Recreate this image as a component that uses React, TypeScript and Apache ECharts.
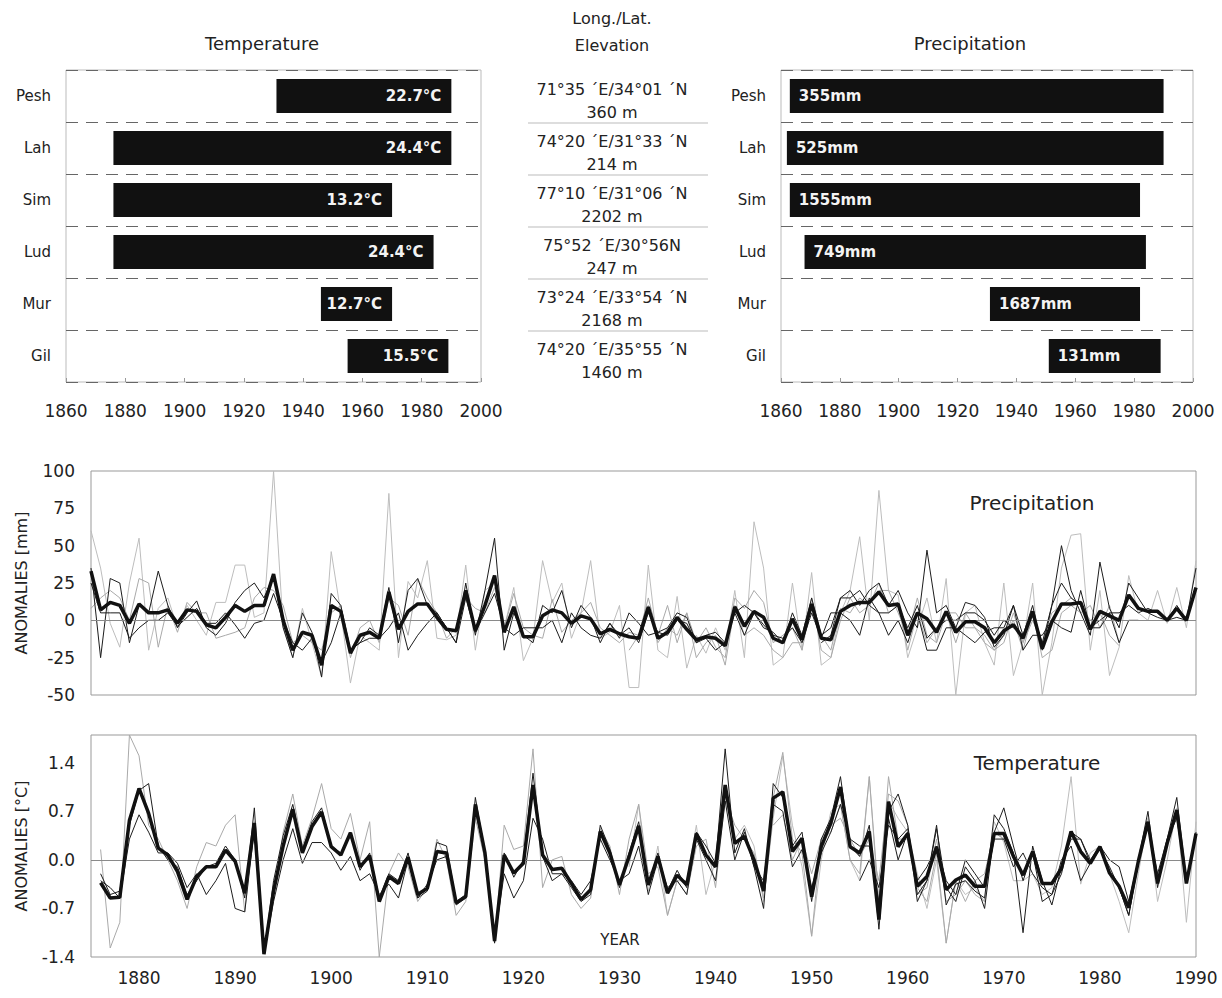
import React, { useEffect, useRef } from "react";
import * as echarts from "echarts";

// ---------- station metadata ----------
const stations = ["Pesh", "Lah", "Sim", "Lud", "Mur", "Gil"];
const tempStart = [1931, 1876, 1876, 1876, 1946, 1955];
const tempEnd = [1990, 1990, 1970, 1984, 1970, 1989];
const tempLabels = ["22.7°C", "24.4°C", "13.2°C", "24.4°C", "12.7°C", "15.5°C"];
const precStart = [1863, 1862, 1863, 1868, 1931, 1951];
const precEnd = [1990, 1990, 1982, 1984, 1982, 1989];
const precLabels = ["355mm", "525mm", "1555mm", "749mm", "1687mm", "131mm"];
const coords = [
  "71°35 ´E/34°01 ´N",
  "74°20 ´E/31°33 ´N",
  "77°10 ´E/31°06 ´N",
  "75°52 ´E/30°56N",
  "73°24 ´E/33°54 ´N",
  "74°20 ´E/35°55 ´N",
];
const elevations = ["360 m", "214 m", "2202 m", "247 m", "2168 m", "1460 m"];
const barTicks = [1860, 2000, 20];

// ---------- precipitation anomalies (mm) ----------
const precFirstYear = 1875;
const precMeanAnom = [
  33, 7, 12, 10, -2, 11, 5, 5, 7, -2,
  7, 6, -3, -5, 2, 10, 6, 10, 10, 31,
  0, -20, -8, -10, -30, 10, 6, -22, -10, -8,
  -12, 19, -6, 6, 11, 11, 2, -6, -7, 20,
  -7, 10, 30, -8, 9, -11, -11, 3, 7, 5,
  -2, 3, 1, -9, -6, -9, -11, -12, 9, -12,
  -8, 2, -6, -13, -11, -12, -17, 9, -4, 6,
  2, -12, -15, 1, -13, 11, -12, -13, 6, 10,
  12, 12, 19, 10, 11, -10, 5, 1, -8, 6,
  -8, -1, -1, -5, -15, -7, -3, -12, 6, -19,
  -1, 11, 11, 12, -6, 6, 3, 0, 17, 8,
  6, 6, 0, 8, 0, 22,
];
const precPesh = [
  60, 35, -2, -18, 25, 55, -20, 8, 15, -5,
  10, 0, -10, 12, 12, 37, 37, 2, 5, 100,
  -5, -25, 8, -15, -38, 46, 5, -42, -10, -15,
  -20, 85, -25, 26, 15, 40, -12, -13, -10, 37,
  -20, 20, 25, -5, 22, -27, -12, 40, 12, 25,
  -12, 5, 40, -12, -8, 10, -45, -45, 37, -20,
  -25, 16, -32, -10, -22, -5, -20, 20, -25, 66,
  35, -30, -25, 25, -20, 32, -30, -25, 5, 20,
  56, 0, 87, 20, 17, -25, -5, 15, -15, 28,
  -50, 5, 10, -15, -30, 25, -37, -15, 25, -50,
  -15, 35, 57, 58, -20, 20, -37, -18, 30, 5,
  0, 20, -2, 22, -5, 40,
];
const precLah = [
  35, -25, 28, 25, -15, 10, 5, 33, 10, -5,
  5, 13, -5, -10, -2, 12, 20, 25, 15, 30,
  -5, -25, 5, -8, -38, 18, 10, -20, -15, -5,
  -10, 22, -15, 20, 28, 10, 5, -5, -15, 25,
  -10, 20, 55, -20, 5, -10, -15, 10, 5, 20,
  -5, 10, 2, -15, -2, -10, -5, -15, 5, -8,
  -5, 5, 2, -15, -12, -20, -15, 5, 10, 5,
  -5, -8, -15, 5, -10, 15, -10, -5, 15, 20,
  10, 20, 25, 10, 20, 5, -5, 47, 5, 10,
  -5, 12, 10, 2, -18, -10, 10, -10, 10, -20,
  10, 50, 20, 5, -10, 39, 8, -5, 25, 15,
  5, 2, 0, 10, 0, 35,
];
const precSim = [
  8, 15, 20, 15, 0, 28, 25, -18, 10, -8,
  12, 5, 5, -12, -10, -8, -5, 15, 22, 20,
  10, -15, -10, -15, -20, 5, 10, -25, -5, 0,
  -15, 15, 10, -10, 28, 15, 5, -12, -5, 15,
  8, 5, 22, -5, 18, -5, -10, -12, 14, -8,
  0, 5, 12, -5, -10, -15, -8, -10, 10, -15,
  -5, -10, 5, -15, -5, -18, -25, 15, 8, 20,
  12, -15, -10, -5, -20, 12, -10, -20, 8, 5,
  15, 10, 20, 20, 5, -10, 15, -10, -15, 5,
  5, -5, -5, -10, -20, -15, 5, -15, 0, -15,
  5, 10, 15, 10, 0, 5, -10, -17,
];
const precLud = [
  25, 5, 5, 5, -12, -5, 0, 0, 5, -4,
  2, 8, -2, -2, 5, -3, -12, -2, 0, 18,
  0, -15, -20, -12, -28, -15, 5, -20, -15, -12,
  -12, -5, 5, -20, -10, -2, 5, -5, -15, 15,
  -8, 5, 18, -5, -10, -5, -5, -5, 0, -15,
  5, -5, -10, -12, -2, -12, 5, -2, -10, -8,
  -10, 0, -2, -15, -10, -8, -15, 5, -10, 5,
  -3, -10, -12, -5, -15, 5, -12, 5, 5, 0,
  -10, 15, 5, -10, 0, -15, 5, -20, -20, -5,
  -5, -10, -15, -8, -5, -5, 10, -20, -10, -10,
  0, -5, -8, 20, -5, -5, 5, -15, 0, 0,
];
const precMurFirst = 1931;
const precMur = [
  -20, -10, 15, -10,
  10, -15, 5, -25, -15, -10, -30, 10, -10, -5,
  -10, -20, -25, -15, -15, 15, -20, -25, 0, 15,
  5, 10, 25, 5, 10, -20, 5, -15, -5, 5,
  -15, 5, -5, -15, -20, -10, 0, -20, 5, -25,
  -20, 5, 10, 5, 10, -5, 10, -15,
];
const precGilFirst = 1951;
const precGil = [
  -15, -10, 15, 15,
  20, 10, 5, 5, 10, -5, 10, -12, -5, 0,
  0, 5, 5, 0, -10, 0, -5, -10, 5, -15,
  10, 25, 15, 10, -5, 0, 5, 5, 10, 5,
  8, 5, 0, 2, 0,
];

// ---------- temperature anomalies (°C) ----------
const tempFirstYear = 1876;
const tempMeanAnom = [
  -0.33, -0.55, -0.54, 0.57, 1.03, 0.67, 0.17, 0.07, -0.17, -0.57,
  -0.24, -0.1, -0.1, 0.14, -0.02, -0.48, 0.53, -1.36, -0.45, 0.2,
  0.73, 0.1, 0.48, 0.69, 0.19, 0.07, 0.39, -0.1, 0.06, -0.6,
  -0.24, -0.34, 0.04, -0.5, -0.41, 0.12, 0.1, -0.62, -0.53, 0.8,
  0.1, -1.17, 0.07, -0.19, -0.05, 1.08, 0.07, -0.14, -0.12, -0.34,
  -0.57, -0.43, 0.41, 0.1, -0.36, 0.05, 0.49, -0.36, 0.05, -0.48,
  -0.22, -0.36, 0.38, 0.07, -0.1, 1.08, 0.24, 0.34, 0, -0.45,
  0.89, 0.98, 0.12, 0.31, -0.53, 0.19, 0.53, 1.05, 0.19, 0.1,
  0.41, -0.86, 0.84, 0.19, 0.38, -0.38, -0.24, 0.19, -0.43, -0.29,
  -0.22, -0.38, -0.38, 0.38, 0.38, 0.05, -0.22, 0.12, -0.34, -0.34,
  -0.12, 0.41, 0.12, -0.05, 0.19, -0.19, -0.38, -0.69, -0.02, 0.55,
  -0.34, 0.24, 0.72, -0.34, 0.38,
];
const tempLah = [
  -0.2, -0.5, -0.45, 0.5, 1.0, 1.1, 0.2, 0.0, -0.1, -0.5,
  -0.3, -0.1, -0.05, 0.2, 0.0, -0.55, 0.75, -1.35, -0.3, 0.35,
  0.8, 0.15, 0.55, 0.75, 0.2, 0.1, 0.4, -0.15, 0.1, -0.55,
  -0.2, -0.3, 0.1, -0.55, -0.45, 0.25, 0.2, -0.6, -0.5, 0.9,
  0.1, -1.2, 0.1, -0.25, 0.0, 1.25, 0.05, -0.3, -0.2, -0.4,
  -0.6, -0.5, 0.5, 0.15, -0.4, 0.1, 0.55, -0.35, 0.1, -0.45,
  -0.15, -0.4, 0.4, 0.2, -0.05, 1.6, 0.1, 0.45, -0.1, -0.7,
  1.1, 0.9, 0.2, 0.4, -0.6, 0.3, 0.6, 1.2, 0.2, 0.05,
  0.5, -1.0, 0.7, 0.95, 0.5, -0.5, -0.3, 0.5, -0.65, -0.35,
  -0.3, -0.45, -0.55, 0.65, 0.45, 0.1, -1.05, 0.2, -0.3, -0.65,
  -0.1, 0.3, 0.3, -0.05, 0.2, -0.2, -0.4, -0.8, 0.0, 0.7,
  -0.4, 0.3, 0.9, -0.3, 0.4,
];
const tempSim = [
  0.15, -1.27, -0.9, 1.8, 1.5, 0.5, 0.3, 0.0, -0.3, -0.7,
  -0.1, 0.25, 0.2, 0.5, 0.65, -0.75, 0.55, -1.3, -0.5, 0.4,
  0.95, 0.2, 0.6, 1.1, 0.45, 0.3, 0.67, 0.0, 0.55, -1.4,
  -0.2, 0.1, -0.1, -0.6, -0.4, 0.3, 0.0, -0.8, -0.6, 0.6,
  0.0, -1.2, 0.5, 0.15, 0.2, 1.6, -0.4, 0.0, 0.05, -0.5,
  -0.7, -0.55, 0.45, 0.2, -0.5, 0.3, 0.8, -0.2, -0.1, -0.8,
  -0.3, -0.5, 0.2, 0.3, -0.4, 0.9, 0.5, 0.3, 0.1, -0.55,
  0.9, 1.55, 0.3, 0.1, -1.1, 0.3, 0.4, 0.8, 0.0, -0.2,
  1.2, -0.6, 1.2, 0.3, 0.3, -0.4, -0.6, 0.1, -1.2, -0.3,
  -0.6, -0.3, -0.2, 0.4, 0.3,
];
const tempLud = [
  -0.3, -0.4, -0.55, 0.3, 0.65, 0.4, 0.1, 0.1, -0.05, -0.4,
  -0.2, -0.5, -0.3, -0.05, -0.7, -0.75, 0.45, -1.35, -0.6, 0.0,
  0.45, -0.05, 0.25, 0.25, 0.1, -0.15, 0.05, -0.3, -0.2, -0.5,
  -0.35, -0.55, 0.0, -0.55, -0.35, 0.0, 0.05, -0.65, -0.55, 0.7,
  0.1, -1.15, -0.2, -0.55, -0.3, 0.6, 0.3, -0.2, -0.2, -0.3,
  -0.5, -0.3, 0.3, 0.0, -0.3, -0.2, 0.2, -0.5, 0.0, -0.4,
  -0.3, -0.5, 0.3, 0.0, -0.3, 0.85, 0.0, 0.4, -0.1, -0.3,
  0.8, 0.7, -0.1, 0.15, -0.4, 0.1, 0.4, 0.8, 0.3, 0.2,
  0.2, -0.6, 0.6, 0.0, 0.4, -0.3, -0.1, 0.2, -0.3, -0.5,
  0.0, -0.2, -0.4, 0.3, 0.3, -0.1, 0.1, -0.2, -0.4, -0.5,
  0.0, 0.2, -0.3, -0.05, 0.15, -0.1, -0.4, -0.8, -0.05,
];
const tempPeshFirst = 1931;
const tempPesh = [
  -0.1, 0.8, -0.45, 0.2, -0.8,
  -0.3, -0.3, 0.5, -0.5, 0.0, 1.0, 0.3, 0.5, 0.2, -0.6,
  0.6, 1.5, 0.5, -0.1, -1.1, 0.0, 0.7, 0.8, 0.0, -0.3,
  1.2, -0.7, 0.85, 0.6, 0.4, -0.2, -0.7, 0.0, -1.2, -0.3,
  -0.5, -0.4, -0.6, 0.55, 0.25, -0.3, -0.3, -0.2, -0.5, -0.4,
  0.2, 1.2, -0.35, 0.1, 0.2, -0.2, -0.6, -1.05, -0.2, 0.6,
  -0.6, 0.0, 0.75, -0.9, 0.55,
];
const tempMurFirst = 1946;
const tempMur = [
  0.5, 0.65, 0.0, 0.3, -0.2, 0.3, 0.5, 0.6, 0.3, 0.05,
  0.3, -0.3, 0.95, 0.85, 0.5, -0.5, -0.4, 0.3, -0.6, -0.5,
  -0.3, -0.5, -0.6, 0.4, 0.3,
];
const tempGilFirst = 1955;
const tempGil = [
  -0.3, 0.0, -0.4, 0.5, 0.3, 0.45, -0.6, -0.3, 0.45, -0.4,
  -0.6, -0.1, -0.3, -0.7, 0.4, 0.75, 0.2, -0.3, 0.1, -0.6,
  -0.5, -0.2, 0.4, 0.3, 0.0, 0.2, 0.0, -0.1, -0.6, 0.0,
  0.5, -0.2, 0.3, 0.6, -0.3,
];

const FONT = "DejaVu Sans";
const toPairs = (first: number, arr: number[]) => arr.map((v, i) => [first + i, v]);

const BLACK = "#1c1c1c";
const GRAY = "#a9a9a9";
const LGRAY = "#bdbdbd";

function thin(name: string, data: number[][], color: string, gi: number) {
  return {
    name,
    type: "line",
    xAxisIndex: gi,
    yAxisIndex: gi,
    data,
    symbol: "none",
    lineStyle: { color, width: 1 },
    z: 3,
  };
}

function barSeries(gi: number, starts: number[], ends: number[], labels: string[], labelRight: boolean) {
  return {
    type: "custom",
    xAxisIndex: gi,
    yAxisIndex: gi,
    data: stations.map((_, i) => [i, starts[i], ends[i]]),
    encode: { x: [1, 2], y: 0 },
    renderItem: (params: any, api: any) => {
      const idx = api.value(0);
      const p0 = api.coord([api.value(1), idx]);
      const p1 = api.coord([api.value(2), idx]);
      const h = api.size([0, 1])[1] * 0.65;
      return {
        type: "group",
        children: [
          {
            type: "rect",
            shape: { x: p0[0], y: p0[1] - h / 2, width: p1[0] - p0[0], height: h },
            style: { fill: "#111" },
          },
          {
            type: "text",
            x: labelRight ? p1[0] - 10 : p0[0] + 9,
            y: p0[1],
            style: {
              text: labels[params.dataIndex],
              fill: "#f4f4f4",
              font: `bold 15px "${FONT}"`,
              align: labelRight ? "right" : "left",
              verticalAlign: "middle",
            },
          },
        ],
      };
    },
  };
}

export default function App() {
  const ref = useRef<HTMLDivElement>(null);
  useEffect(() => {
    document.body.style.margin = "0";
    if (!ref.current) return;
    const chart = echarts.init(ref.current, undefined, { renderer: "svg" });

    const axisLabelStyle = { color: "#222", fontFamily: FONT, fontSize: 16 };

    const barGridX = (gi: number) => ({
      type: "value",
      gridIndex: gi,
      min: barTicks[0],
      max: barTicks[1],
      interval: barTicks[2],
      axisLine: { show: false },
      axisTick: { show: true, inside: true, length: 4, lineStyle: { color: "#999" } },
      splitLine: { show: false },
      axisLabel: { ...axisLabelStyle, fontSize: 17, margin: 20, formatter: (v: number) => String(v) },
    });
    const barGridY = (gi: number) => ({
      type: "category",
      gridIndex: gi,
      data: stations,
      inverse: true,
      axisLine: { show: false },
      axisTick: { show: false },
      axisLabel: { ...axisLabelStyle, fontSize: 15, margin: 15 },
      splitLine: { show: true, lineStyle: { color: "#666", type: [12, 8], width: 1 } },
    });

    const anomX = (gi: number, showLabels: boolean) => ({
      type: "value",
      gridIndex: gi,
      min: 1875,
      max: 1990,
      interval: 5,
      axisLine: { show: false },
      axisTick: { show: false },
      splitLine: { show: false },
      axisLabel: {
        show: showLabels,
        ...axisLabelStyle,
        fontSize: 17,
        margin: 12,
        formatter: (v: number) => (v % 10 === 0 ? String(v) : ""),
      },
    });

    const zeroLine = {
      silent: true,
      symbol: ["none", "none"],
      label: { show: false },
      lineStyle: { color: "#8a8a8a", width: 1, type: "solid" },
      data: [{ yAxis: 0 }],
    };

    const mean = (data: number[][], gi: number) => ({
      type: "line",
      xAxisIndex: gi,
      yAxisIndex: gi,
      data,
      symbol: "none",
      lineStyle: { color: "#111", width: 3.5 },
      z: 5,
      markLine: zeroLine,
    });

    const graphic: any[] = [];
    const txt = (text: string, x: number, y: number, size: number, extra: any = {}) =>
      graphic.push({
        type: "text",
        x,
        y,
        ...extra,
        style: { text, fill: "#222", font: `${size}px "${FONT}"`, align: "center", verticalAlign: "middle" },
      });
    txt("Temperature", 262, 43, 18);
    txt("Precipitation", 970, 43, 18);
    txt("Long./Lat.", 612, 18, 16);
    txt("Elevation", 612, 45, 16);
    stations.forEach((_, i) => {
      const c = 70 + 52 * i + 26;
      txt(coords[i], 612, c - 7, 16);
      txt(elevations[i], 612, c + 16, 16);
      if (i > 0) {
        graphic.push({
          type: "line",
          shape: { x1: 528, y1: 70 + 52 * i + 1, x2: 708, y2: 70 + 52 * i + 1 },
          style: { stroke: "#bbb", lineWidth: 1 },
        });
      }
    });
    txt("ANOMALIES [mm]", 21, 583, 16, { rotation: Math.PI / 2 });
    txt("ANOMALIES [°C]", 21, 846, 16, { rotation: Math.PI / 2 });
    txt("Precipitation", 1032, 503, 20);
    txt("Temperature", 1037, 763, 20);
    txt("YEAR", 620, 940, 15);

    chart.setOption({
      animation: false,
      backgroundColor: "#fff",
      grid: [
        { left: 66, top: 70, width: 415, height: 312, show: true, borderColor: "#bbb", borderWidth: 1 },
        { left: 781, top: 70, width: 412, height: 312, show: true, borderColor: "#bbb", borderWidth: 1 },
        { left: 91, top: 471, width: 1105, height: 224, show: true, borderColor: "#999", borderWidth: 1 },
        { left: 91, top: 735, width: 1105, height: 222, show: true, borderColor: "#999", borderWidth: 1 },
      ],
      xAxis: [barGridX(0), barGridX(1), anomX(2, false), anomX(3, true)],
      yAxis: [
        barGridY(0),
        barGridY(1),
        {
          type: "value",
          gridIndex: 2,
          min: -50,
          max: 100,
          interval: 25,
          axisLine: { show: false },
          axisTick: { show: false },
          splitLine: { show: false },
          axisLabel: { ...axisLabelStyle, fontSize: 17, margin: 16 },
        },
        {
          type: "value",
          gridIndex: 3,
          min: -1.4,
          max: 1.8,
          interval: 0.7,
          axisLine: { show: false },
          axisTick: { show: false },
          splitLine: { show: false },
          axisLabel: {
            ...axisLabelStyle,
            fontSize: 17,
            margin: 16,
            formatter: (v: number) => (v > 1.5 ? "" : (Math.round(v * 10) / 10).toFixed(1)),
          },
        },
      ],
      series: [
        barSeries(0, tempStart, tempEnd, tempLabels, true),
        barSeries(1, precStart, precEnd, precLabels, false),
        thin("P-Pesh", toPairs(precFirstYear, precPesh), LGRAY, 2),
        thin("P-Sim", toPairs(precFirstYear, precSim), GRAY, 2),
        thin("P-Mur", toPairs(precMurFirst, precMur), GRAY, 2),
        thin("P-Lah", toPairs(precFirstYear, precLah), BLACK, 2),
        thin("P-Lud", toPairs(precFirstYear, precLud), BLACK, 2),
        thin("P-Gil", toPairs(precGilFirst, precGil), BLACK, 2),
        mean(toPairs(precFirstYear, precMeanAnom), 2),
        thin("T-Pesh", toPairs(tempPeshFirst, tempPesh), LGRAY, 3),
        thin("T-Sim", toPairs(tempFirstYear, tempSim), GRAY, 3),
        thin("T-Mur", toPairs(tempMurFirst, tempMur), GRAY, 3),
        thin("T-Lah", toPairs(tempFirstYear, tempLah), BLACK, 3),
        thin("T-Lud", toPairs(tempFirstYear, tempLud), BLACK, 3),
        thin("T-Gil", toPairs(tempGilFirst, tempGil), BLACK, 3),
        mean(toPairs(tempFirstYear, tempMeanAnom), 3),
      ],
      graphic,
    });
    return () => chart.dispose();
  }, []);
  return <div ref={ref} style={{ width: 1222, height: 998 }} />;
}
